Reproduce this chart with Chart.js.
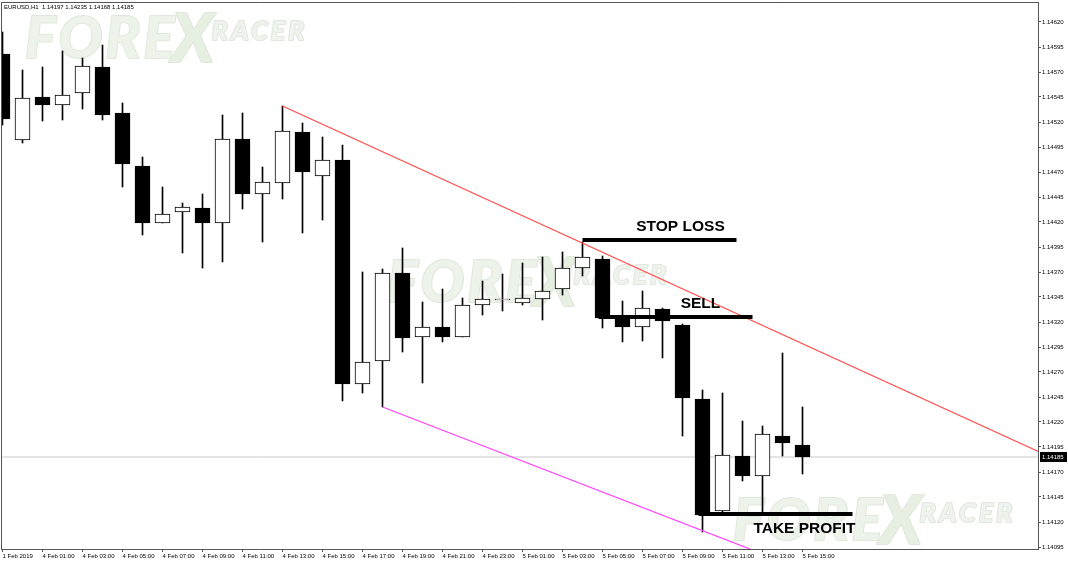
<!DOCTYPE html>
<html><head><meta charset="utf-8">
<script src="https://cdn.jsdelivr.net/npm/chart.js@4.4.1/dist/chart.umd.min.js"></script>
<style>html,body{margin:0;padding:0;background:#fff;overflow:hidden}#wrap{width:1068px;height:564px;position:relative}</style>
</head><body><div id="wrap"><canvas id="c" width="1068" height="564"></canvas></div>
<script>
// ---------- data ----------
const symbol = 'EURUSD,H1';
const opens  = [1.14588,1.14502,1.14545,1.14537,1.14549,1.14575,1.14529,1.14476,1.14419,1.14430,
                1.14434,1.14419,1.14503,1.14448,1.14459,1.14510,1.14466,1.14482,1.14258,1.14281,
                1.14369,1.14305,1.14315,1.14305,1.14337,1.14342,1.14339,1.14343,1.14353,1.14374,
                1.14383,1.14326,1.14315,1.14333,1.14317,1.14243,1.14131,1.14186,1.14166,1.14206,1.14197];
const highs  = [1.14610,1.14572,1.14575,1.14591,1.14584,1.14597,1.14539,1.14485,1.14455,1.14439,
                1.14448,1.14527,1.14529,1.14475,1.14536,1.14519,1.14505,1.14497,1.14370,1.14373,
                1.14394,1.14340,1.14353,1.14344,1.14361,1.14368,1.14379,1.14385,1.14390,1.14400,
                1.14386,1.14341,1.14351,1.14334,1.14318,1.14252,1.14249,1.14221,1.14216,1.14289,1.14235];
const lows   = [1.14517,1.14499,1.14521,1.14522,1.14533,1.14522,1.14455,1.14407,1.14419,1.14389,
                1.14374,1.14380,1.14433,1.14400,1.14443,1.14409,1.14422,1.14241,1.14249,1.14235,
                1.14290,1.14259,1.14300,1.14305,1.14327,1.14331,1.14337,1.14322,1.14347,1.14366,
                1.14314,1.14300,1.14301,1.14284,1.14206,1.14110,1.14130,1.14161,1.14128,1.14186,1.14168];
const closes = [1.14523,1.14544,1.14537,1.14547,1.14576,1.14527,1.14478,1.14419,1.14428,1.14435,
                1.14419,1.14503,1.14448,1.14460,1.14511,1.14470,1.14482,1.14258,1.14280,1.14369,
                1.14304,1.14315,1.14305,1.14337,1.14343,1.14343,1.14344,1.14351,1.14374,1.14385,
                1.14324,1.14315,1.14334,1.14321,1.14244,1.14127,1.14187,1.14166,1.14208,1.14199,1.14185];
const xTickIndex  = [0,2,4,6,8,10,12,14,16,18,20,22,24,26,28,30,32,34,36,38,40];
const xTickLabels = ['1 Feb 2019','4 Feb 01:00','4 Feb 03:00','4 Feb 05:00','4 Feb 07:00','4 Feb 09:00',
                     '4 Feb 11:00','4 Feb 13:00','4 Feb 15:00','4 Feb 17:00','4 Feb 19:00','4 Feb 21:00',
                     '4 Feb 23:00','5 Feb 01:00','5 Feb 03:00','5 Feb 05:00','5 Feb 07:00','5 Feb 09:00',
                     '5 Feb 11:00','5 Feb 13:00','5 Feb 15:00'];
const yTicks = [1.14095,1.14120,1.14145,1.14170,1.14195,1.14220,1.14245,1.14270,1.14295,1.14320,1.14345,
                1.14370,1.14395,1.14420,1.14445,1.14470,1.14495,1.14520,1.14545,1.14570,1.14595,1.14620];
// trend lines (bar index, price)
const redLineX = [14, 53];
const redLineY = [1.14536, 1.141795];
const magentaLineX = [19, 42];
const magentaLineY = [1.14235, 1.140572];
// trade levels
const levelNames  = ['STOP LOSS','SELL','TAKE PROFIT'];
const levelPrices = [1.14402, 1.14325, 1.14128];
const levelFrom   = [29.0, 29.8, 34.8];
const levelTo     = [36.7, 37.5, 42.5];
const levelTextX  = [33.9, 34.9, 40.1];
const levelTextY  = [1.14415, 1.14338, 1.14113];

// ---------- build ----------
const idx = opens.map((_, i) => i);
const last = opens.length - 1;
const bodies = idx.map(i => ({x: i, y: [opens[i], closes[i]]}));
const wicks  = idx.map(i => ({x: i, y: [lows[i], highs[i]]}));
const bodyColors = idx.map(i => closes[i] >= opens[i] ? '#ffffff' : '#000000');

const datasets = [
  {type:'line', data:[{x:-5,y:closes[last]},{x:60,y:closes[last]}], borderColor:'#c8c8c8', borderWidth:1, pointRadius:0, order:20},
  {type:'line', data:redLineX.map((x,k)=>({x, y:redLineY[k]})), borderColor:'#ff4a4a', borderWidth:1.2, pointRadius:0, order:3},
  {type:'line', data:magentaLineX.map((x,k)=>({x, y:magentaLineY[k]})), borderColor:'#ff40ff', borderWidth:1.2, pointRadius:0, order:3},
  {type:'bar', data:wicks, backgroundColor:'#000', borderWidth:0, barThickness:1, grouped:false, order:6},
  {type:'bar', data:bodies, backgroundColor:bodyColors, borderColor:'#000', borderWidth:1, borderSkipped:false, barThickness:15, grouped:false, order:5}
];
levelPrices.forEach((p, k) => datasets.push({
  type:'line', data:[{x:levelFrom[k], y:p},{x:levelTo[k], y:p}], borderColor:'#000', borderWidth:4,
  borderCapStyle:'butt', pointRadius:0, order:1
}));

const FONT = '"Liberation Sans", Arial, sans-serif';
const WM_FONT = 'Lato, "Liberation Sans", sans-serif';

function drawWatermark(ctx, x, y) {
  ctx.save();
  ctx.fillStyle = '#edf3ea';
  ctx.strokeStyle = '#dfe8da';
  ctx.lineWidth = 2;
  ctx.lineJoin = 'round';
  ctx.font = 'italic 900 58px ' + WM_FONT;
  ctx.letterSpacing = '3px';
  ctx.strokeText('FORE', x, y); ctx.fillText('FORE', x, y);
  const w = ctx.measureText('FORE').width;
  ctx.letterSpacing = '0px';
  ctx.font = 'italic 900 66px ' + WM_FONT;
  ctx.fillStyle = '#e6efe1';
  ctx.strokeText('X', x + w - 6, y + 4); ctx.fillText('X', x + w - 6, y + 4);
  ctx.font = 'italic 900 27px ' + WM_FONT;
  ctx.letterSpacing = '3px';
  ctx.fillStyle = '#eff2ee';
  ctx.strokeText('RACER', x + w + 34, y - 18); ctx.fillText('RACER', x + w + 34, y - 18);
  ctx.restore();
}

const deco = {
  id:'deco',
  beforeDraw(chart) {
    const ctx = chart.ctx;
    ctx.save(); ctx.fillStyle = '#fff'; ctx.fillRect(0,0,chart.width,chart.height); ctx.restore();
  },
  beforeDatasetsDraw(chart) {
    const ctx = chart.ctx, a = chart.chartArea;
    ctx.save();
    ctx.beginPath(); ctx.rect(a.left, a.top, a.right - a.left, a.bottom - a.top); ctx.clip();
    drawWatermark(ctx, a.left + 24, a.top + 56);
    drawWatermark(ctx, a.left + 386, a.top + 300);
    drawWatermark(ctx, a.left + 732, a.top + 538);
    ctx.restore();
  },
  afterDatasetsDraw(chart) {
    const ctx = chart.ctx, xs = chart.scales.x, ys = chart.scales.y;
    ctx.save();
    ctx.fillStyle = '#000';
    ctx.font = 'bold 15.5px ' + FONT;
    ctx.textAlign = 'center'; ctx.textBaseline = 'middle';
    levelNames.forEach((t, k) => ctx.fillText(t, xs.getPixelForValue(levelTextX[k]), ys.getPixelForValue(levelTextY[k])));
    ctx.restore();
  },
  afterDraw(chart) {
    const ctx = chart.ctx, a = chart.chartArea, ys = chart.scales.y;
    ctx.save();
    // frame top / left
    ctx.strokeStyle = '#555'; ctx.lineWidth = 1;
    ctx.beginPath();
    ctx.moveTo(a.left + 0.5, a.bottom); ctx.lineTo(a.left + 0.5, a.top + 0.5); ctx.lineTo(a.right, a.top + 0.5);
    ctx.stroke();
    // header
    ctx.fillStyle = '#000';
    ctx.font = '6px ' + FONT;
    ctx.textBaseline = 'middle'; ctx.textAlign = 'left';
    const hdr = symbol + '  ' + [opens[last], highs[last], lows[last], closes[last]].map(v => v.toFixed(5)).join(' ');
    ctx.fillText(hdr, a.left + 3, a.top + 5);
    // current price box
    const py = Math.round(ys.getPixelForValue(closes[last]));
    ctx.fillStyle = '#000';
    ctx.fillRect(a.right + 2, py - 5, 27, 10);
    ctx.fillStyle = '#fff';
    ctx.fillText(closes[last].toFixed(5), a.right + 4, py);
    ctx.restore();
  }
};

new Chart(document.getElementById('c'), {
  type:'bar',
  data:{datasets},
  options:{
    responsive:false, animation:false, events:[],
    layout:{padding:{left:1, top:2, right:0, bottom:0}},
    plugins:{legend:{display:false}, tooltip:{enabled:false}, title:{display:false}},
    scales:{
      x:{
        type:'linear', min:-0.075, max:51.775, offset:false,
        grid:{drawOnChartArea:false, drawTicks:true, tickLength:3, color:'#555', offset:false},
        border:{color:'#555', width:1},
        ticks:{autoSkip:false, maxRotation:0, minRotation:0, align:'start', padding:1,
               color:'#000', font:{size:6, family:FONT},
               callback:(v) => { const k = xTickIndex.indexOf(v); return k >= 0 ? xTickLabels[k] : ''; }},
        afterBuildTicks:(s) => { s.ticks = xTickIndex.map(v => ({value:v})); },
        afterFit:(s) => { s.height = 15; s.paddingLeft = 0; s.paddingRight = 0; }
      },
      y:{
        type:'linear', position:'right', min:1.14093, max:1.14640,
        grid:{drawOnChartArea:false, drawTicks:true, tickLength:3, color:'#555'},
        border:{color:'#555', width:1},
        ticks:{padding:1, color:'#000', font:{size:6, family:FONT}, callback:(v) => Number(v).toFixed(5)},
        afterBuildTicks:(s) => { s.ticks = yTicks.map(v => ({value:v})); },
        afterFit:(s) => { s.width = 30; s.paddingTop = 0; s.paddingBottom = 0; }
      }
    }
  },
  plugins:[deco]
});
</script></body></html>
